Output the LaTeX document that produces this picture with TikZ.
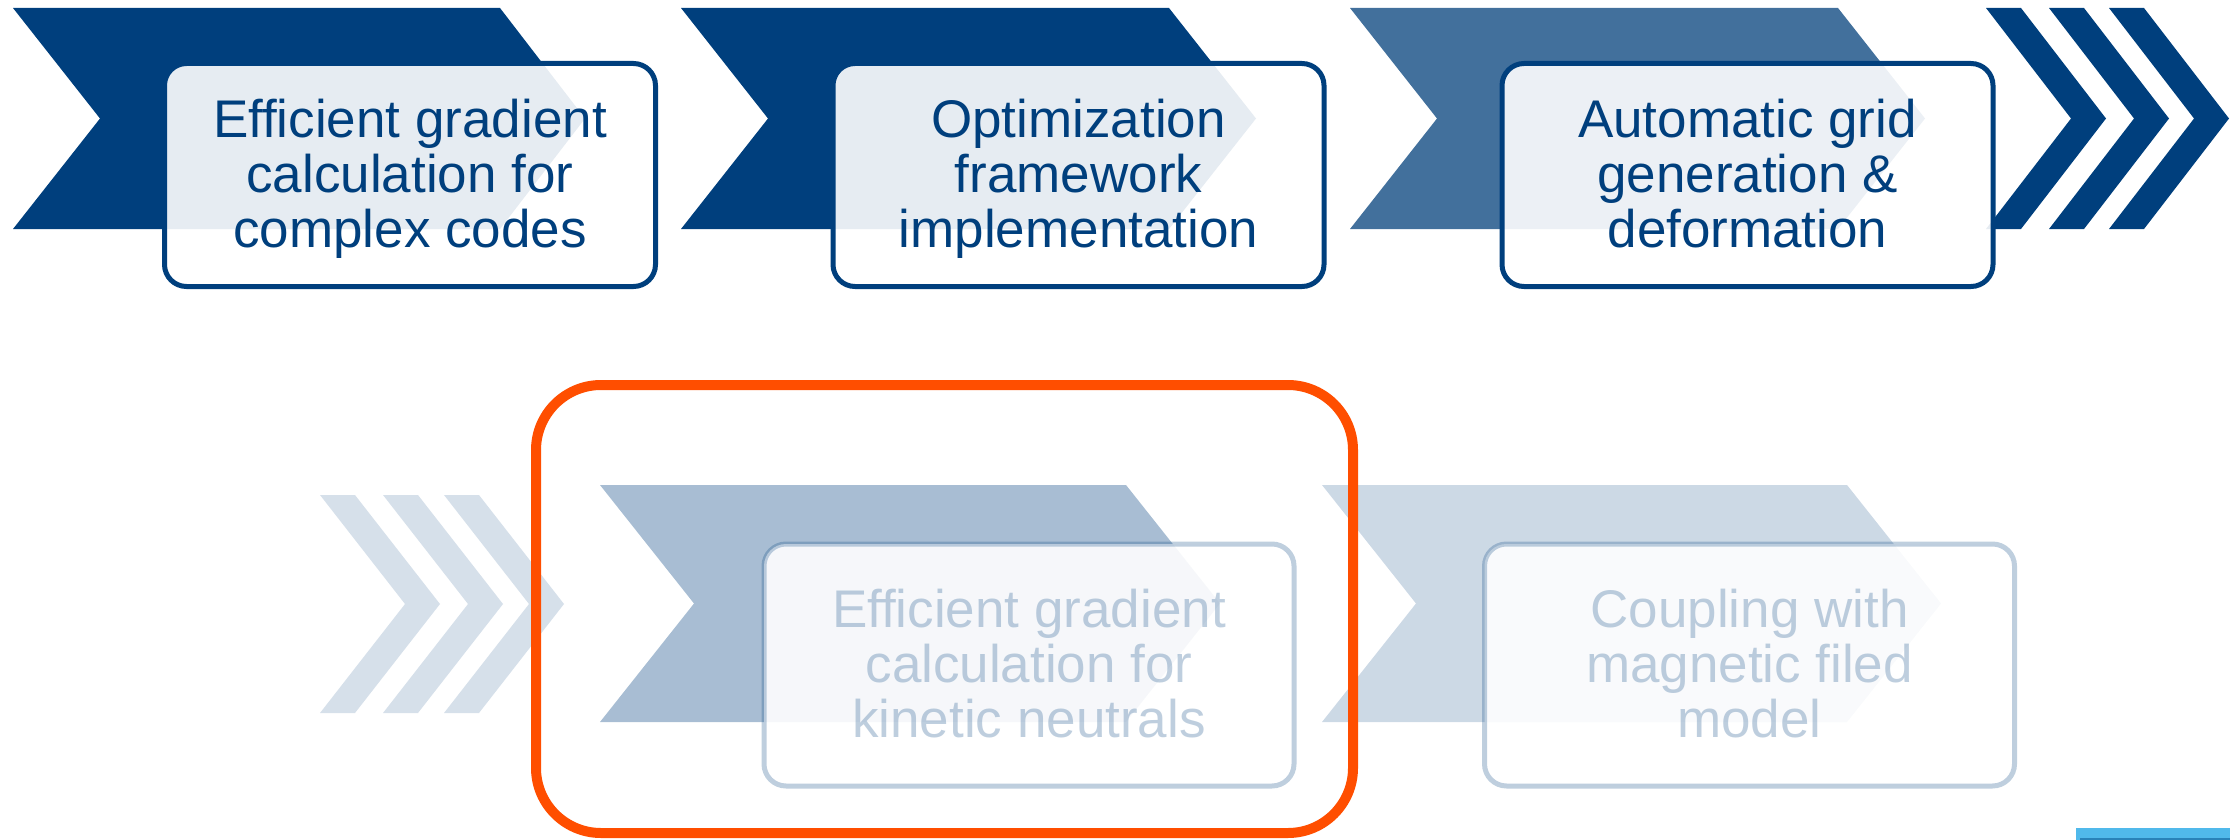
\documentclass[tikz,border=0pt]{standalone}
\usepackage{fontspec}
\setmainfont{Liberation Sans}
\definecolor{dkblue}{RGB}{0,63,125}
\definecolor{midblue}{RGB}{66,112,156}
\definecolor{hiorange}{RGB}{255,78,0}
\definecolor{skyblue}{RGB}{80,185,235}
\definecolor{skydark}{RGB}{40,130,185}
\newcommand\tstrutx{\rule{0pt}{46pt}}
\newcommand\bstrutx{\rule[-12pt]{0pt}{12pt}}
\tikzset{
  boxtop/.style={draw=dkblue, line width=5pt, rounded corners=22pt, fill=white, fill opacity=0.9,
    text opacity=1, text=dkblue, align=center, inner sep=0pt,
    minimum width=491pt, minimum height=223pt, font=\fontsize{53}{55}\selectfont},
  boxbot/.style={draw=dkblue, draw opacity=0.25, line width=5pt, rounded corners=22pt, fill=white, fill opacity=0.9,
    text opacity=0.25, text=dkblue, align=center, inner sep=0pt,
    minimum width=530pt, minimum height=242pt, font=\fontsize{53}{55}\selectfont},
  chevdark/.style={fill=dkblue},
  chevmid/.style={fill=midblue},
  chevfadeA/.style={fill=dkblue, fill opacity=0.34},
  chevfadeB/.style={fill=dkblue, fill opacity=0.2},
  chevfadeS/.style={fill=dkblue, fill opacity=0.16},
  focusframe/.style={draw=hiorange, line width=10pt, rounded corners=65pt}
}
\begin{document}
\begin{tikzpicture}[x=1pt,y=-1pt]
\useasboundingbox (0,0) rectangle (2230,840);
% top row chevrons
\fill[chevdark] (13,8) -- (500,8) -- (585,118.5) -- (500,229) -- (13,229) -- (100,118.5) -- cycle;
\fill[chevdark] (681,8) -- (1169,8) -- (1256,118.5) -- (1169,229) -- (681,229) -- (768,118.5) -- cycle;
\fill[chevmid] (1350,8) -- (1838,8) -- (1925,118.5) -- (1838,229) -- (1350,229) -- (1437,118.5) -- cycle;
\foreach \x in {1986,2049,2109}{
  \fill[chevdark] (\x,8) -- (\x+35,8) -- (\x+120,118.5) -- (\x+35,229) -- (\x,229) -- (\x+85,118.5) -- cycle;
}
% top row boxes
\node[boxtop] (box1) at (410,175) {\tstrutx Efficient gradient\\calculation for\\complex codes\bstrutx};
\node[boxtop] (box2) at (1078.5,175) {\tstrutx Optimization\\framework\\implementation\bstrutx};
\node[boxtop] (box3) at (1747.5,175) {\tstrutx Automatic grid\\generation \&\\deformation\bstrutx};
% bottom row
\foreach \x in {320,383,444}{
  \fill[chevfadeS] (\x,495) -- (\x+35,495) -- (\x+120,604) -- (\x+35,713) -- (\x,713) -- (\x+85,604) -- cycle;
}
\fill[chevfadeA] (600,485) -- (1126,485) -- (1220,603.5) -- (1126,722) -- (600,722) -- (694,603.5) -- cycle;
\fill[chevfadeB] (1322,485) -- (1847,485) -- (1941,603.5) -- (1847,722) -- (1322,722) -- (1416,603.5) -- cycle;
\node[boxbot] (box4) at (1029,665) {\tstrutx Efficient gradient\\calculation for\\kinetic neutrals\bstrutx};
\node[boxbot] (box5) at (1749.5,665) {\tstrutx Coupling with\\magnetic filed\\model\bstrutx};
% focus frame
\draw[focusframe] (536,385) rectangle (1353,833);
% corner bar
\fill[skyblue] (2076,828) rectangle (2230,840);
\fill[skydark] (2080,838) rectangle (2230,840);
\end{tikzpicture}
\end{document}
